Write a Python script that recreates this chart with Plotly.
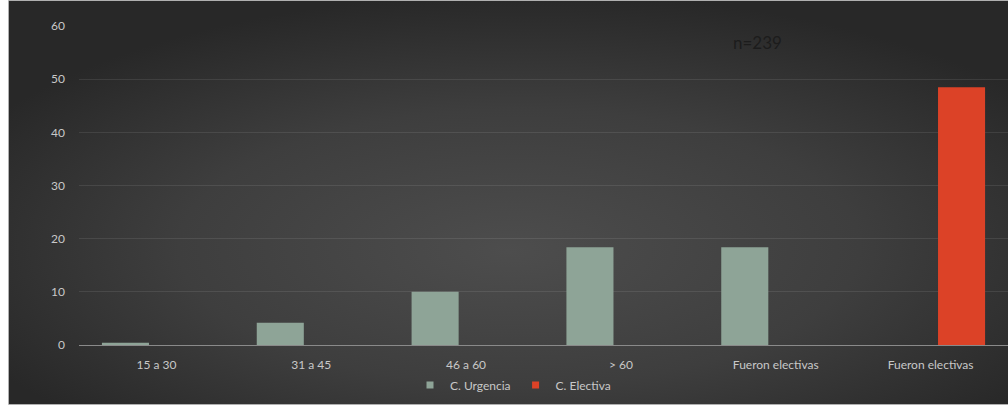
import base64
import plotly.graph_objects as go

categories = ["15 a 30", "31 a 45", "46 a 60", "> 60", "Fueron electivas", "Fueron electivas"]
urgencia = [0.4, 4.2, 10.0, 18.4, 18.4, None]
electiva = [None, None, None, None, None, 48.5]
y_ticks = [0, 10, 20, 30, 40, 50, 60]

W, H = 1008, 406
ML, MR, MT, MB = 79, 0, 26, 61
PW = W - ML - MR
PH = H - MT - MB

def px_x(px):
    return (px - ML) / PW

def px_y(py):
    return (H - MB - py) / PH

svg = """<svg xmlns='http://www.w3.org/2000/svg' width='1000' height='400' viewBox='0 0 1000 400' preserveAspectRatio='none'>
<defs><radialGradient id='g' cx='52%' cy='60%' r='62%' fx='50%' fy='62%'>
<stop offset='0' stop-color='#4d4d4d'/><stop offset='0.55' stop-color='#3e3e3e'/><stop offset='1' stop-color='#282828'/>
</radialGradient></defs><rect width='1000' height='400' fill='url(#g)'/></svg>"""
src = "data:image/svg+xml;base64," + base64.b64encode(svg.encode()).decode()

xs = list(range(len(categories)))
URG = "#8ea497"
ELE = "#dc4227"

fig = go.Figure()
fig.add_trace(go.Bar(
    x=xs, y=urgencia, name="C. Urgencia", showlegend=False,
    marker=dict(color=URG, line=dict(width=0)),
    hoverinfo="skip",
))
fig.add_trace(go.Bar(
    x=xs, y=electiva, name="C. Electiva", showlegend=False,
    marker=dict(color=ELE, line=dict(width=0)),
    hoverinfo="skip",
))
# legend entries with small square swatches
fig.add_trace(go.Scatter(
    x=[None], y=[None], mode="markers", name="C. Urgencia",
    marker=dict(symbol="square", size=7, color=URG), hoverinfo="skip",
))
fig.add_trace(go.Scatter(
    x=[None], y=[None], mode="markers", name="C. Electiva",
    marker=dict(symbol="square", size=7, color=ELE), hoverinfo="skip",
))

font_fam = "Lato, 'Open Sans', sans-serif"

fig.update_layout(
    width=W, height=H,
    margin=dict(l=ML, r=MR, t=MT, b=MB, pad=0),
    paper_bgcolor="#ffffff",
    plot_bgcolor="rgba(0,0,0,0)",
    barmode="group",
    bargap=0.2,
    bargroupgap=0.24,
    font=dict(family=font_fam, size=12, color="#c8c8c8"),
    showlegend=True,
    legend=dict(
        orientation="h", x=px_x(513), y=px_y(385), xanchor="center", yanchor="middle",
        font=dict(size=12, color="#c8c8c8"), bgcolor="rgba(0,0,0,0)",
        itemwidth=30, tracegroupgap=0,
    ),
    xaxis=dict(
        range=[-0.5, len(categories) - 0.5],
        tickmode="array", tickvals=xs, ticktext=categories,
        showgrid=False, zeroline=False,
        showline=True, linecolor="#8a8a8a", linewidth=1,
        ticks="", ticklabelstandoff=9,
        tickfont=dict(size=12, color="#c8c8c8"),
        fixedrange=True,
    ),
    yaxis=dict(
        range=[0, 60], tickmode="array", tickvals=y_ticks,
        showgrid=True, gridcolor="rgba(255,255,255,0.09)", gridwidth=1,
        zeroline=False, showline=False, ticks="",
        ticklabelstandoff=13,
        tickfont=dict(size=12, color="#c8c8c8"),
        fixedrange=True,
    ),
    images=[dict(
        source=src, xref="paper", yref="paper",
        x=px_x(9), y=px_y(1), sizex=(W - 9) / PW, sizey=(404) / PH,
        xanchor="left", yanchor="top", sizing="stretch", layer="below",
    )],
    shapes=[dict(
        type="rect", xref="paper", yref="paper",
        x0=px_x(8.5), x1=px_x(1010), y0=px_y(404.5), y1=px_y(0.5),
        line=dict(color="#b0b0b0", width=1), fillcolor="rgba(0,0,0,0)", layer="below",
    )],
    annotations=[dict(
        text="n=239", xref="paper", yref="paper",
        x=px_x(757), y=px_y(42), xanchor="center", yanchor="middle",
        showarrow=False, font=dict(size=17, color="#1c1c1c", family=font_fam),
    )],
)

fig.write_html(
    "out.html",
    config={"displayModeBar": False},
    post_script="document.body.style.margin='0';document.body.style.overflow='hidden';",
)
